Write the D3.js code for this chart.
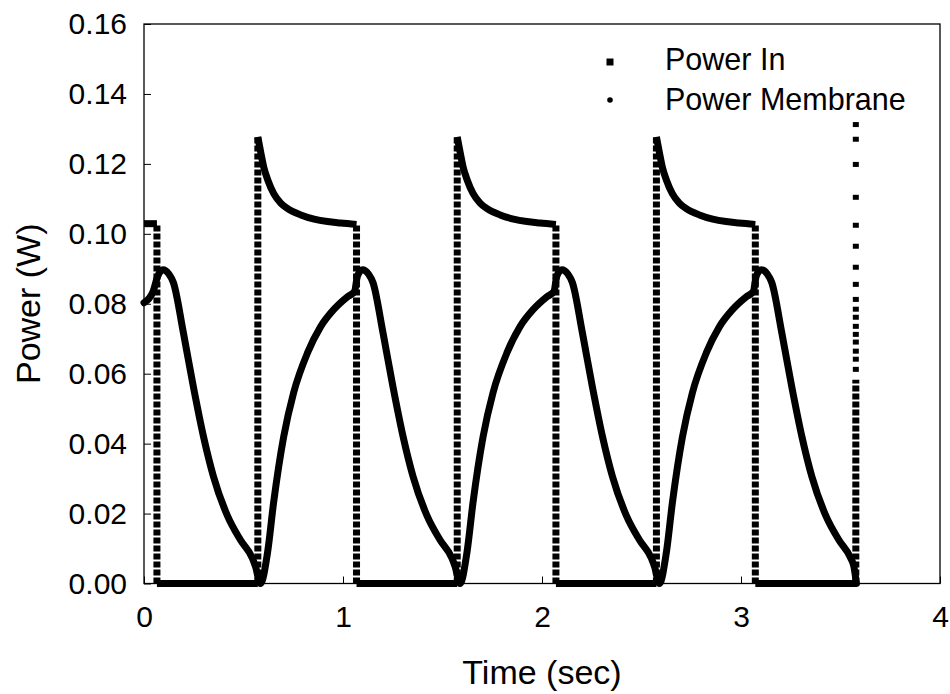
<!DOCTYPE html>
<html>
<head>
<meta charset="UTF-8">
<title>Power In / Power Membrane</title>
<style>
  body { margin: 0; background: #fff; }
  svg text { font-family: "Liberation Sans", Arial, sans-serif; fill: #000; }
</style>
</head>
<body>
<svg id="chart"></svg>
<script src="https://d3js.org/d3.v7.min.js"></script>
<script>
const width = 950, height = 694;

// axis ticks
const xTicks = [0, 1, 2, 3, 4];
const yTicks = [0, 0.02, 0.04, 0.06, 0.08, 0.10, 0.12, 0.14, 0.16];

// Power In (W) vs time (sec); equal consecutive times are the fast jumps
const inTime = [
  0, 0.065, 0.065, 0.572,
  0.572, 0.587, 0.602, 0.622, 0.652, 0.687, 0.722, 0.788, 0.855, 0.922, 0.987, 1.068,
  1.068, 1.574,
  1.574, 1.589, 1.604, 1.624, 1.654, 1.689, 1.724, 1.790, 1.857, 1.924, 1.989, 2.070,
  2.070, 2.575,
  2.575, 2.590, 2.605, 2.625, 2.655, 2.690, 2.725, 2.791, 2.858, 2.925, 2.990, 3.072,
  3.072, 3.577,
  3.577
];
const inPower = [
  0.1029, 0.1029, 0, 0,
  0.1277, 0.1232, 0.1190, 0.1154, 0.1115, 0.1088, 0.1072, 0.1054, 0.1042, 0.1035, 0.1031, 0.1027,
  0, 0,
  0.1277, 0.1232, 0.1190, 0.1154, 0.1115, 0.1088, 0.1072, 0.1054, 0.1042, 0.1035, 0.1031, 0.1027,
  0, 0,
  0.1277, 0.1232, 0.1190, 0.1154, 0.1115, 0.1088, 0.1072, 0.1054, 0.1042, 0.1035, 0.1031, 0.1027,
  0, 0,
  0.0583
];
// last rise of Power In: sparse samples at the end of the run
const inTailTime = 3.577;
const inTailPower = [0.0611, 0.0640, 0.0663, 0.0689, 0.0711, 0.0734, 0.0760, 0.0783, 0.0811,
  0.0854, 0.0903, 0.0963, 0.1023, 0.1103, 0.1197, 0.1269, 0.1311];

// Power Membrane (W) vs time (sec)
const memTime = [
  0, 0.045, 0.070, 0.095, 0.125, 0.148, 0.198, 0.248, 0.299, 0.349, 0.419, 0.484, 0.545, 0.560, 0.585,
  0.621, 0.651, 0.702, 0.752, 0.822, 0.887, 0.953, 1.023, 1.058,
  1.073, 1.098, 1.128, 1.151, 1.201, 1.251, 1.302, 1.352, 1.422, 1.487, 1.548, 1.563, 1.588,
  1.623, 1.653, 1.704, 1.754, 1.824, 1.889, 1.955, 2.025, 2.060,
  2.075, 2.100, 2.130, 2.153, 2.203, 2.253, 2.304, 2.354, 2.424, 2.489, 2.550, 2.565, 2.590,
  2.625, 2.655, 2.706, 2.756, 2.826, 2.891, 2.957, 3.027, 3.062,
  3.077, 3.102, 3.132, 3.155, 3.205, 3.255, 3.306, 3.356, 3.426, 3.491, 3.552, 3.567, 3.580
];
const memPower = [
  0.0803, 0.0834, 0.0880, 0.0897, 0.0885, 0.0860, 0.0717, 0.0563, 0.0420, 0.0306, 0.0194, 0.0125, 0.0072, 0.0049, 0,
  0.0089, 0.0230, 0.0420, 0.0546, 0.0660, 0.0734, 0.0783, 0.0820, 0.0835,
  0.0880, 0.0897, 0.0885, 0.0860, 0.0717, 0.0563, 0.0420, 0.0306, 0.0194, 0.0125, 0.0072, 0.0049, 0,
  0.0089, 0.0230, 0.0420, 0.0546, 0.0660, 0.0734, 0.0783, 0.0820, 0.0835,
  0.0880, 0.0897, 0.0885, 0.0860, 0.0717, 0.0563, 0.0420, 0.0306, 0.0194, 0.0125, 0.0072, 0.0049, 0,
  0.0089, 0.0230, 0.0420, 0.0546, 0.0660, 0.0734, 0.0783, 0.0820, 0.0835,
  0.0880, 0.0897, 0.0885, 0.0860, 0.0717, 0.0563, 0.0420, 0.0306, 0.0194, 0.0125, 0.0072, 0.0049, 0
];

const legendLabels = ["Power In", "Power Membrane"];

const margin = { left: 144, right: 10, top: 24, bottom: 110.5 };

const svg = d3.select("#chart")
  .attr("width", width)
  .attr("height", height);

const x = d3.scaleLinear().domain([0, 4]).range([margin.left, width - margin.right]);
const y = d3.scaleLinear().domain([0, 0.16]).range([height - margin.bottom, margin.top]);

// axes, ticks pointing inward
svg.append("g")
  .attr("transform", `translate(0,${y(0)})`)
  .call(d3.axisBottom(x).tickValues(xTicks).tickFormat(d3.format("d"))
    .tickSizeInner(-7).tickSizeOuter(0).tickPadding(22))
  .call(g => g.select(".domain").remove())
  .call(g => g.selectAll("line").attr("stroke", "#000"))
  .call(g => g.selectAll("text").attr("font-size", 30).attr("fill", "#000")
    .style("font-family", "'Liberation Sans', Arial, sans-serif"));

svg.append("g")
  .attr("transform", `translate(${x(0)},0)`)
  .call(d3.axisLeft(y).tickValues(yTicks).tickFormat(d3.format(".2f"))
    .tickSizeInner(-7).tickSizeOuter(0).tickPadding(17))
  .call(g => g.select(".domain").remove())
  .call(g => g.selectAll("line").attr("stroke", "#000"))
  .call(g => g.selectAll("text").attr("font-size", 30).attr("fill", "#000")
    .style("font-family", "'Liberation Sans', Arial, sans-serif"));

// frame
svg.append("rect")
  .attr("x", x(0)).attr("y", y(0.16))
  .attr("width", x(4) - x(0)).attr("height", y(0) - y(0.16))
  .attr("fill", "none").attr("stroke", "#000").attr("stroke-width", 1.3);

// axis titles
svg.append("text")
  .attr("x", (x(0) + x(4)) / 2).attr("y", 684)
  .attr("text-anchor", "middle").attr("font-size", 34)
  .text("Time (sec)");

svg.append("text")
  .attr("transform", `translate(40,${(y(0) + y(0.16)) / 2}) rotate(-90)`)
  .attr("text-anchor", "middle").attr("font-size", 34)
  .text("Power (W)");

const line = d3.line()
  .x(d => x(d[0]))
  .y(d => y(d[1]))
  .curve(d3.curveMonotoneX);

// Power In: split into smooth runs and vertical jumps
const inPts = inTime.map((t, i) => [t, inPower[i]]);
const runs = [], jumps = [];
let run = [inPts[0]];
for (let i = 1; i < inPts.length; i++) {
  const p = inPts[i], q = inPts[i - 1];
  if (p[0] === q[0]) {
    runs.push(run);
    jumps.push([q, p]);
    run = [p];
  } else {
    run.push(p);
  }
}
runs.push(run);

const gIn = svg.append("g");
gIn.selectAll("path.run")
  .data(runs.filter(r => r.length > 1))
  .join("path")
  .attr("class", "run")
  .attr("d", line)
  .attr("fill", "none")
  .attr("stroke", "#000")
  .attr("stroke-width", 7)
  .attr("stroke-linejoin", "round");

gIn.selectAll("line.jump")
  .data(jumps)
  .join("line")
  .attr("class", "jump")
  .attr("x1", d => x(d[0][0])).attr("x2", d => x(d[1][0]))
  .attr("y1", d => y(Math.min(d[0][1], d[1][1])))
  .attr("y2", d => y(Math.max(d[0][1], d[1][1])))
  .attr("stroke", "#000")
  .attr("stroke-width", 7)
  .attr("stroke-dasharray", "6,2");

gIn.selectAll("rect.tail")
  .data(inTailPower)
  .join("rect")
  .attr("class", "tail")
  .attr("x", x(inTailTime) - 3)
  .attr("y", d => y(d) - 3)
  .attr("width", 6).attr("height", 5)
  .attr("fill", "#000");

// Power Membrane
svg.append("path")
  .datum(memTime.map((t, i) => [t, memPower[i]]))
  .attr("d", line)
  .attr("fill", "none")
  .attr("stroke", "#000")
  .attr("stroke-width", 7)
  .attr("stroke-linejoin", "round")
  .attr("stroke-linecap", "round");

// legend
const legend = svg.append("g").attr("transform", "translate(610,62)");
legend.append("rect")
  .attr("x", -3.5).attr("y", -3.5).attr("width", 7).attr("height", 7)
  .attr("fill", "#000");
legend.append("circle")
  .attr("cx", 0).attr("cy", 38).attr("r", 2.8)
  .attr("fill", "#000");
legend.selectAll("text.lg")
  .data(legendLabels)
  .join("text")
  .attr("class", "lg")
  .attr("x", 55)
  .attr("y", (d, i) => 8 + i * 40)
  .attr("font-size", 30.5)
  .text(d => d);
</script>
</body>
</html>
